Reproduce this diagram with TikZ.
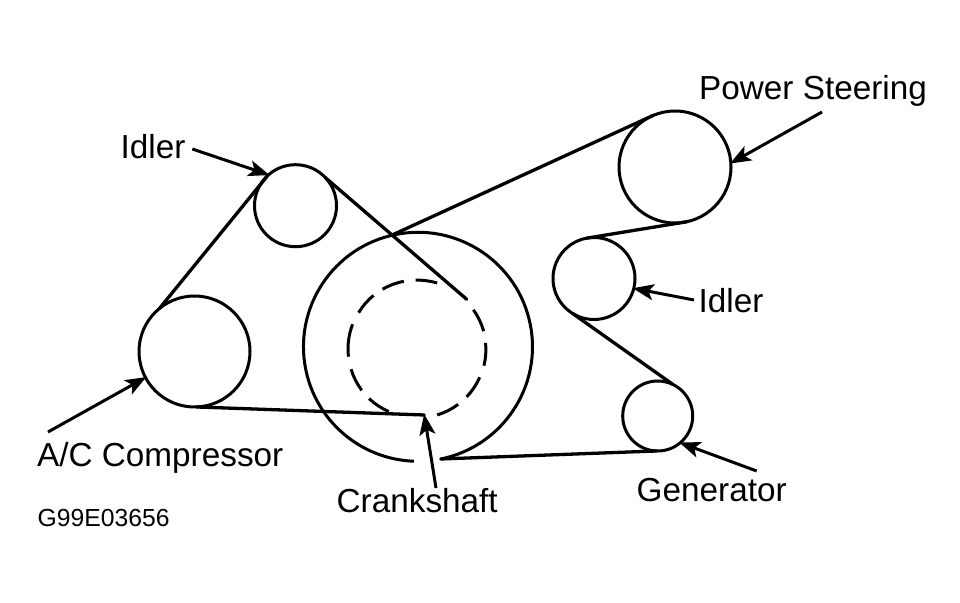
\documentclass[tikz,border=0pt]{standalone}
\usepackage{fontspec}
\setmainfont{Liberation Sans}
\usetikzlibrary{arrows.meta}
\tikzset{
  pulley/.style={circle,draw=black,line width=3pt,inner sep=0pt,outer sep=0pt,minimum size=#1},
  hub/.style={circle,inner sep=0pt,outer sep=0pt,minimum size=#1},
  belt/.style={line width=3.3pt,line cap=round},
  rim/.style={line width=3pt},
  pointer/.style={line width=3pt,-{Stealth[length=21pt,width=16pt,inset=5pt]},shorten >=-1pt},
  lab/.style={anchor=base west,inner sep=0pt,font=\fontsize{33.3}{36}\selectfont},
  code/.style={anchor=base west,inner sep=0pt,font=\fontsize{24.7}{28}\selectfont}
}
\begin{document}
\begin{tikzpicture}[x=1pt,y=1pt]
\useasboundingbox[fill=white] (0,0) rectangle (960,602);
% pulleys
\node[pulley=111pt] (ac) at (194.5,250.5) {};
\node[pulley=82pt] (idlerA) at (295.5,396.3) {};
\node[pulley=112pt] (ps) at (675,435) {};
\node[pulley=82pt] (idlerB) at (594,323.5) {};
\node[pulley=70pt] (gen) at (657.7,186) {};
\node[hub=229pt] (crank) at (417,255) {};
\node[hub=138pt] (inner) at (417,253) {};
% crank rim with its gap
\draw[rim] (crank.-78.5) arc[start angle=-78.5,end angle=268,radius=114.5pt];
% dashed inner circle
\foreach \a/\b in {73.4/91.6,101/120,129.6/148.7,159/186.4,197/216.7,226.8/246.5,287/306.6,316.6/336.3,346.4/365.5,15.8/35.5}
  \draw[rim] (inner.\a) arc[start angle=\a,end angle=\b,radius=69pt];
% belt ends and arrow tails
\coordinate (beltA) at (466.7,302.7);
\coordinate (beltB) at (424.3,187);
\coordinate (tailIdlerA) at (192.3,453);
\coordinate (tailAc) at (48,170);
\coordinate (tailCrank) at (436,114);
\coordinate (tailPs) at (822,490);
\coordinate (tailIdlerB) at (694,302);
\coordinate (tailGen) at (756.7,131);
% belts
\draw[belt] (ac.129) -- (idlerA.133);
\draw[belt] (idlerA.43) -- (beltA);
\draw[belt] (ac.272) -- (beltB);
\draw[belt] (crank.103.4) -- (ps.113.6);
\draw[belt] (ps.-78) -- (idlerB.100);
\draw[belt] (idlerB.-122.6) -- (gen.64.5);
\draw[belt] (gen.268) -- (crank.-78.5);
% pointers
\draw[pointer] (tailIdlerA) -- (idlerA.131);
\draw[pointer] (tailAc) -- (ac.208);
\draw[pointer] (tailCrank) -- (beltB);
\draw[pointer] (tailPs) -- (ps.4);
\draw[pointer] (tailIdlerB) -- (idlerB.-14);
\draw[pointer] (tailGen) -- (gen.-50.6);
% labels
\node[lab] (lPs) at (699,502) {Power Steering};
\node[lab] (lIdlerA) at (120.5,443) {Idler};
\node[lab] (lIdlerB) at (698.5,289) {Idler};
\node[lab] (lAc) at (37,135) {A/C Compressor};
\node[lab] (lCrank) at (336.5,89) {Crankshaft};
\node[lab] (lGen) at (636.5,100) {Generator};
\node[code] (lCode) at (37.5,75) {G99E03656};
\end{tikzpicture}
\end{document}
